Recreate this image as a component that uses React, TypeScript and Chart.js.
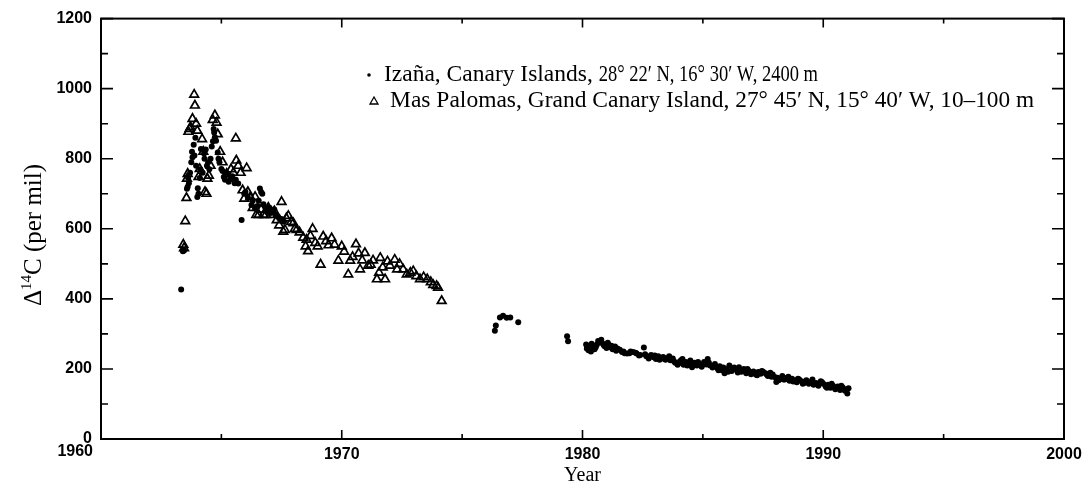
import React, { useEffect, useRef } from "react";
import { Chart, registerables } from "chart.js";

Chart.register(...registerables);

// Izaña (filled dots)
const izanaYears = [
  1963.33, 1963.4, 1963.45, 1963.57, 1963.6, 1963.65, 1963.7, 1963.75, 1963.8, 1963.85,
  1963.88, 1963.95, 1964.0, 1964.02, 1964.1, 1964.15, 1964.22, 1964.3, 1964.35, 1964.4,
  1964.45, 1964.55, 1964.65, 1964.7, 1964.73, 1964.78, 1964.85, 1964.92, 1965.0, 1965.1,
  1965.2, 1965.3, 1965.45, 1965.6, 1965.7, 1965.84, 1965.95, 1966.1, 1966.25, 1966.4,
  1966.55, 1966.6, 1966.65, 1966.75, 1966.9, 1967.0, 1967.1, 1967.25, 1967.4, 1967.6,
  1963.62, 1963.78, 1963.92, 1964.05, 1964.12, 1964.28, 1964.5, 1964.6, 1964.68, 1964.88,
  1965.05, 1965.15, 1965.38, 1965.55, 1966.0, 1966.3, 1966.5, 1966.7, 1966.85, 1967.05,
  1967.2, 1967.35, 1967.5,
  1976.36, 1976.4, 1976.57, 1976.7, 1976.85, 1977.0, 1977.33, 1979.36, 1979.4,
  1980.15, 1980.2, 1980.25, 1980.3, 1980.35, 1980.42, 1980.5, 1980.6, 1980.7, 1980.78,
  1980.85, 1980.92, 1981.0, 1981.08, 1981.15, 1981.25, 1981.35, 1981.45, 1981.64, 1981.75,
  1981.95, 1982.1, 1982.25, 1982.4, 1982.55, 1982.65, 1982.75, 1982.85, 1982.95, 1983.05,
  1983.15, 1983.25, 1983.35, 1983.45, 1983.55, 1983.65, 1983.75, 1983.85, 1983.95, 1984.05,
  1984.15, 1984.2, 1984.3, 1984.4, 1984.48, 1984.55, 1984.65, 1984.75, 1984.85, 1984.95,
  1985.05, 1985.15, 1985.2, 1985.3, 1985.4, 1985.5, 1985.6, 1985.7, 1985.8, 1985.9,
  1985.93, 1986.0, 1986.1, 1986.2, 1986.3, 1986.4, 1986.5, 1986.6, 1986.7, 1986.8,
  1986.9, 1987.0, 1987.1, 1987.2, 1987.3, 1987.4, 1987.5, 1987.6, 1987.7, 1987.8,
  1987.9, 1988.0, 1988.05, 1988.1, 1988.2, 1988.3, 1988.4, 1988.5, 1988.6, 1988.7,
  1988.8, 1988.9, 1989.0, 1989.1, 1989.2, 1989.3, 1989.4, 1989.5, 1989.6, 1989.7,
  1989.8, 1989.9, 1990.0, 1990.1, 1990.2, 1990.3, 1990.4, 1990.5, 1990.6, 1990.7,
  1990.8, 1990.9, 1991.0, 1991.05,
  1980.18, 1980.28, 1980.38, 1980.55, 1980.65, 1980.88, 1981.05, 1981.2, 1981.4, 1981.55,
  1981.7, 1981.85, 1982.0, 1982.2, 1982.35, 1982.6, 1982.8, 1983.0, 1983.2, 1983.4,
  1983.6, 1983.8, 1984.0, 1984.1, 1984.35, 1984.6, 1984.8, 1985.0, 1985.25, 1985.45,
  1985.65, 1985.85, 1986.05, 1986.25, 1986.45, 1986.65, 1986.85, 1987.05, 1987.25, 1987.45,
  1987.65, 1987.85, 1988.15, 1988.35, 1988.55, 1988.75, 1988.95, 1989.15, 1989.35, 1989.55,
  1989.75, 1989.95, 1990.15, 1990.35, 1990.55, 1990.75, 1990.95,
];
const izanaValues = [
  427, 536, 538, 714, 720, 730, 760, 790, 804, 840,
  809, 780, 691, 716, 745, 828, 760, 800, 826, 780,
  790, 800, 850, 875, 861, 851, 818, 790, 771, 748,
  760, 734, 750, 740, 729, 625, 700, 690, 668, 658,
  680, 715, 705, 670, 649, 660, 650, 640, 630, 620,
  745, 820, 860, 700, 770, 815, 770, 835, 885, 800,
  765, 740, 745, 730, 705, 680, 665, 700, 660, 645,
  655, 635, 628,
  309, 324, 347, 352, 346, 347, 333, 293, 279,
  270, 262, 253, 258, 250, 262, 256, 270, 276, 283,
  272, 265, 260, 270, 262, 256, 264, 258, 248, 245,
  245, 248, 244, 240, 261, 236, 230, 240, 233, 228,
  236, 231, 234, 226, 232, 225, 230, 218, 212, 222,
  228, 212, 220, 215, 224, 205, 218, 210, 215, 206,
  220, 213, 228, 210, 204, 214, 202, 208, 196, 188,
  195, 200, 210, 194, 204, 198, 205, 192, 200, 188,
  195, 185, 193, 184, 191, 186, 192, 188, 180, 189,
  184, 176, 163, 175, 172, 180, 170, 175, 166, 172,
  168, 162, 170, 165, 160, 168, 158, 163, 155, 160,
  152, 165, 158, 150, 155, 146, 152, 142, 150, 140,
  148, 138, 130, 145,
  258, 266, 272, 262, 280, 268, 275, 266, 252, 255,
  250, 244, 250, 246, 238, 242, 236, 238, 226, 228,
  236, 222, 216, 225, 210, 212, 220, 212, 218, 208,
  196, 204, 192, 200, 190, 196, 200, 190, 182, 194,
  184, 178, 168, 170, 178, 164, 172, 158, 162, 170,
  156, 162, 146, 158, 148, 152, 142,
];

// Mas Palomas (open triangles)
const masYears = [
  1963.42, 1963.45, 1963.5, 1963.55, 1963.57, 1963.6, 1963.63, 1963.68, 1963.72, 1963.8,
  1963.87, 1963.9, 1963.95, 1964.0, 1964.05, 1964.1, 1964.2, 1964.25, 1964.32, 1964.38,
  1964.42, 1964.48, 1964.55, 1964.64, 1964.73, 1964.8, 1964.85, 1964.95, 1965.05, 1965.22,
  1965.3, 1965.4, 1965.5, 1965.6, 1965.62, 1965.7, 1965.8, 1965.88, 1965.95, 1966.05,
  1966.1, 1966.2, 1966.3, 1966.4, 1966.45, 1966.55, 1966.65, 1966.75, 1966.85, 1966.95,
  1967.05, 1967.2, 1967.3, 1967.4, 1967.5, 1967.57, 1967.64, 1967.7, 1967.78, 1967.9,
  1967.99, 1968.05, 1968.13, 1968.25, 1968.4, 1968.5, 1968.54, 1968.6, 1968.7, 1968.79,
  1968.9, 1969.0, 1969.12, 1969.23, 1969.35, 1969.45, 1969.58, 1969.7, 1969.86, 1970.0,
  1970.1, 1970.27, 1970.35, 1970.45, 1970.59, 1970.7, 1970.76, 1970.85, 1970.96, 1971.1,
  1971.2, 1971.3, 1971.46, 1971.55, 1971.6, 1971.7, 1971.8, 1971.9, 1972.0, 1972.2,
  1972.3, 1972.4, 1972.55, 1972.7, 1972.85, 1972.97, 1973.1, 1973.25, 1973.4, 1973.55,
  1973.7, 1973.8, 1973.94, 1974.0, 1974.15,
];
const masValues = [
  555, 545, 622, 688, 743, 757, 877, 885, 890, 914,
  983, 952, 900, 880, 748, 771, 856, 820, 705, 700,
  743, 752, 780, 911, 924, 903, 870, 820, 790, 757,
  743, 770, 760, 858, 795, 780, 760, 710, 686, 773,
  705, 690, 660, 691, 640, 640, 655, 640, 640, 660,
  640, 650, 625, 610, 677, 592, 597, 630, 637, 620,
  616, 600, 597, 590, 575, 550, 569, 536, 580, 600,
  560, 550, 498, 578, 565, 553, 573, 555, 509, 550,
  535, 470, 509, 520, 556, 530, 484, 510, 531, 495,
  498, 510, 456, 475, 517, 490, 456, 507, 495, 512,
  484, 500, 484, 470, 475, 479, 465, 456, 462, 456,
  448, 440, 437, 432, 394,
];

const xMajorTicks = [1960, 1970, 1980, 1990, 2000];
const xMinorTicks = [1965, 1975, 1985, 1995];
const yMajorTicks = [0, 200, 400, 600, 800, 1000, 1200];
const yMinorTicks = [100, 300, 500, 700, 900, 1100];

const legendNames = ["Izaña, Canary Islands, ", "Mas Palomas, Grand Canary Island, "];
const legendCoords = ["28° 22′ N, 16° 30′ W, 2400 m", "27° 45′ N, 15° 40′ W, 10–100 m"];
const xTitle = "Year";
const yTitleMain = "Δ";
const yTitleSup = "14";
const yTitleRest = "C (per mil)";

const SERIF = "'Liberation Serif', 'Times New Roman', serif";
const SANS = "'Liberation Sans', Arial, sans-serif";
const TICK_FONT = { family: SANS, size: 16, weight: "bold" };

const framePlugin = {
  id: "frame",
  afterDraw(chart: any) {
    const { ctx, chartArea: a, scales } = chart;
    const xs = scales.x;
    const ys = scales.y;
    ctx.save();
    ctx.strokeStyle = "#000";
    ctx.lineWidth = 2;
    ctx.strokeRect(a.left, a.top, a.right - a.left, a.bottom - a.top);
    ctx.lineWidth = 1.6;
    ctx.beginPath();
    const yTick = (v: number, len: number) => {
      const p = ys.getPixelForValue(v);
      ctx.moveTo(a.left, p);
      ctx.lineTo(a.left + len, p);
      ctx.moveTo(a.right, p);
      ctx.lineTo(a.right - len, p);
    };
    const xTick = (v: number, len: number) => {
      const p = xs.getPixelForValue(v);
      ctx.moveTo(p, a.bottom);
      ctx.lineTo(p, a.bottom - len);
      ctx.moveTo(p, a.top);
      ctx.lineTo(p, a.top + len);
    };
    yMajorTicks.forEach((v) => yTick(v, 12));
    yMinorTicks.forEach((v) => yTick(v, 7));
    xMajorTicks.forEach((v) => xTick(v, 9));
    xMinorTicks.forEach((v) => xTick(v, 5));
    ctx.stroke();

    // first x tick label sits left of the axis corner, below the "0"
    ctx.fillStyle = "#000";
    ctx.font = `${TICK_FONT.weight} ${TICK_FONT.size}px ${SANS}`;
    ctx.textAlign = "right";
    ctx.textBaseline = "middle";
    ctx.fillText(String(xMajorTicks[0]), ys.right - 8, 452);

    // y axis title with superscript
    ctx.textAlign = "left";
    ctx.translate(41, 235);
    ctx.rotate(-Math.PI / 2);
    ctx.textBaseline = "alphabetic";
    ctx.font = `25px ${SERIF}`;
    const w1 = ctx.measureText(yTitleMain).width;
    const w3 = ctx.measureText(yTitleRest).width;
    ctx.font = `15px ${SERIF}`;
    const w2 = ctx.measureText(yTitleSup).width;
    const total = w1 + w2 + w3;
    let x = -total / 2;
    ctx.font = `25px ${SERIF}`;
    ctx.fillText(yTitleMain, x, 0);
    x += w1;
    ctx.font = `15px ${SERIF}`;
    ctx.fillText(yTitleSup, x, -10);
    x += w2;
    ctx.font = `25px ${SERIF}`;
    ctx.fillText(yTitleRest, x, 0);
    ctx.restore();
  },
};

const legendPlugin = {
  id: "customLegend",
  afterDraw(chart: any) {
    const { ctx } = chart;
    ctx.save();
    ctx.fillStyle = "#000";
    ctx.strokeStyle = "#000";
    ctx.beginPath();
    ctx.arc(369, 75, 1.8, 0, Math.PI * 2);
    ctx.fill();
    ctx.lineWidth = 1.3;
    ctx.beginPath();
    ctx.moveTo(374, 97);
    ctx.lineTo(378, 104);
    ctx.lineTo(370, 104);
    ctx.closePath();
    ctx.stroke();
    ctx.font = `23.5px ${SERIF}`;
    ctx.textBaseline = "middle";
    ctx.textAlign = "left";
    const rows = [
      { x: 384, y: 75, end: 818 },
      { x: 390, y: 101, end: 1034 },
    ];
    rows.forEach((r, i) => {
      ctx.fillText(legendNames[i], r.x, r.y);
      const nx = r.x + ctx.measureText(legendNames[i]).width;
      ctx.fillText(legendCoords[i], nx, r.y, r.end - nx);
    });
    ctx.restore();
  },
};

export default function App() {
  const ref = useRef<HTMLCanvasElement>(null);
  useEffect(() => {
    const canvas = ref.current;
    if (!canvas) return;
    const chart = new Chart(canvas, {
      type: "scatter",
      data: {
        datasets: [
          {
            label: legendNames[0] + legendCoords[0],
            data: izanaYears.map((x, i) => ({ x, y: izanaValues[i] })),
            pointStyle: "circle",
            pointRadius: 3,
            backgroundColor: "#000",
            borderColor: "#000",
            borderWidth: 0,
          },
          {
            label: legendNames[1] + legendCoords[1],
            data: masYears.map((x, i) => ({ x, y: masValues[i] })),
            pointStyle: "triangle",
            pointRadius: 5,
            backgroundColor: "rgba(255,255,255,0)",
            borderColor: "#000",
            borderWidth: 1.7,
          },
        ],
      },
      options: {
        responsive: false,
        animation: false,
        events: [],
        layout: { padding: { top: 15, right: 24, left: 0, bottom: 0 } },
        plugins: { legend: { display: false }, tooltip: { enabled: false } },
        scales: {
          x: {
            type: "linear",
            min: 1960,
            max: 2000,
            afterBuildTicks: (s: any) => {
              s.ticks = xMajorTicks.map((v) => ({ value: v }));
            },
            afterFit: (s: any) => {
              s.height = 49;
            },
            grid: { display: false, drawTicks: false },
            border: { display: false },
            ticks: {
              color: "#000",
              padding: 6,
              maxRotation: 0,
              autoSkip: false,
              font: TICK_FONT,
              callback: (v: any) => (v === xMajorTicks[0] ? "" : String(v)),
            },
            title: {
              display: true,
              text: xTitle,
              color: "#000",
              font: { family: SERIF, size: 20 },
              padding: { top: 0, bottom: 0 },
            },
          },
          y: {
            type: "linear",
            min: 0,
            max: 1200,
            afterBuildTicks: (s: any) => {
              s.ticks = yMajorTicks.map((v) => ({ value: v }));
            },
            afterFit: (s: any) => {
              s.width = 101;
            },
            grid: { display: false, drawTicks: false },
            border: { display: false },
            ticks: {
              color: "#000",
              padding: 9,
              autoSkip: false,
              font: TICK_FONT,
              callback: (v: any) => String(v),
            },
          },
        },
      },
      plugins: [framePlugin, legendPlugin],
    } as any);
    return () => chart.destroy();
  }, []);
  return (
    <div style={{ position: "absolute", left: 0, top: 0, width: 1088, height: 488, background: "#fff" }}>
      <canvas ref={ref} width={1088} height={488} style={{ display: "block" }} />
    </div>
  );
}
